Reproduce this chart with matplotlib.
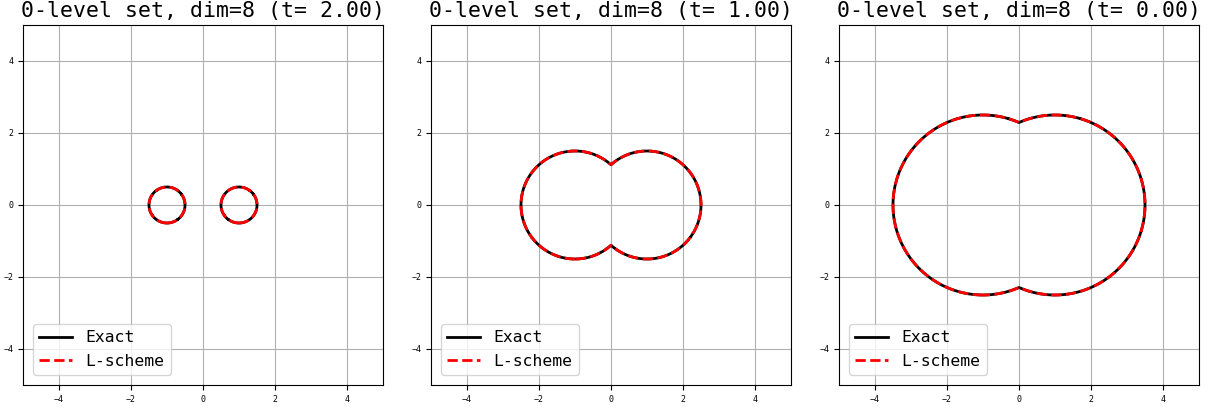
import numpy as np
import matplotlib
matplotlib.use("Agg")
import matplotlib.pyplot as plt

plt.rcParams['font.family'] = ['DejaVu Sans Mono']

times = [2.00, 1.00, 0.00]
radii = [0.5, 1.5, 2.5]
centers_x = [-1.0, 1.0]
dim = 8
xlim = (-5, 5)
ticks = [-4, -2, 0, 2, 4]

fig = plt.figure(figsize=(12.1, 4.08), dpi=100)
lefts_px = [23, 431, 839]
g = np.linspace(-5, 5, 801)
X, Y = np.meshgrid(g, g)
dist = np.minimum(*[np.hypot(X - c, Y) for c in centers_x])

for lp, t, r in zip(lefts_px, times, radii):
    ax = fig.add_axes([lp / 1210, 23 / 408, 360 / 1210, 360 / 408])
    ax.contour(X, Y, dist - r, levels=[0], colors='black', linewidths=2, linestyles='solid')
    ax.contour(X, Y, dist - r, levels=[0], colors='red', linewidths=2, linestyles='dashed')
    ax.plot([], [], color='black', lw=2, label='Exact')
    ax.plot([], [], color='red', lw=2, ls='--', label='L-scheme')
    ax.set_xlim(*xlim)
    ax.set_ylim(*xlim)
    ax.set_xticks(ticks)
    ax.set_yticks(ticks)
    ax.tick_params(labelsize=6)
    ax.grid(True)
    ax.set_title(f"0-level set, dim={dim} (t= {t:.2f})", fontsize=15.5)
    ax.legend(loc='lower left', fontsize=11.8, borderaxespad=0.6, labelspacing=0.5)

fig.savefig('out.png', dpi=100)
